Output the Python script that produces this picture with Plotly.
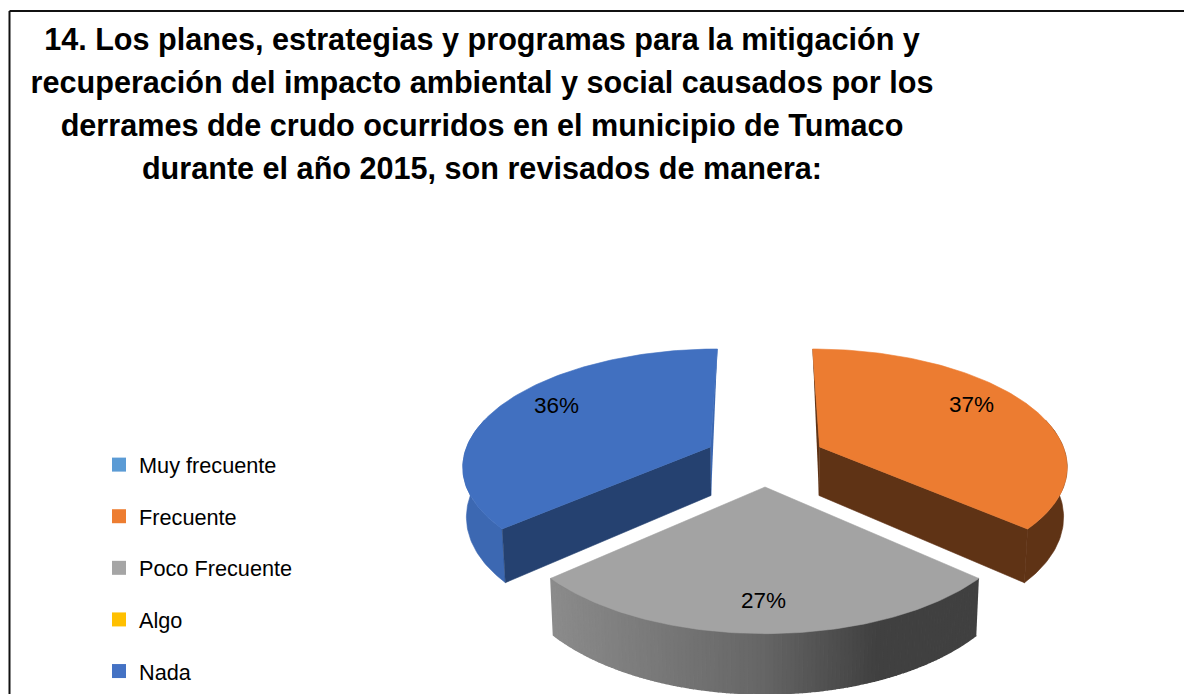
import numpy as np
import plotly.graph_objects as go

categories = ["Muy frecuente", "Frecuente", "Poco Frecuente", "Algo", "Nada"]
values = [0, 36.51, 27, 0, 36.49]
legend_colors = ["#5B9BD5", "#ED7D31", "#A5A5A5", "#FFC000", "#4472C4"]
top_colors = ["#5B9BD5", "#EC7C31", "#A3A3A3", "#FFC000", "#4170C0"]
cut_colors = ["#2E5E8A", "#5F3315", "#555555", "#7F6000", "#254170"]
rim_colors = ["#4E86BA", "#5F3315", None, "#BF9000", "#3C68B2"]
sliver_colors = ["#4E86BA", "#5F3315", "#777777", "#BF9000", "#3C68B2"]
explode = [(0, 0), (0.224, -0.2), (0, 0.14), (0, 0), (-0.224, -0.2)]
label_pos = [None, (971, 404), (763, 600), None, (556, 405)]
title_lines = ["14. Los planes, estrategias y programas para la mitigación y",
               "recuperación del impacto ambiental y social causados por los",
               "derrames dde crudo ocurridos en el municipio de Tumaco",
               "durante el año 2015, son revisados de manera:"]

CX, CY, R, B, K, D, SHRINK = 765, 470, 251, 119, 0.15, 50, 0.988
FONT = "Liberation Sans, Arial"


def project(u, v, e, bottom=False):
    U = np.asarray(u) + e[0]
    V = np.asarray(v) + e[1]
    s = 1 / (1 - K * V)
    x = R * U * s
    y = CY + B * V * s
    if bottom:
        return CX + x * SHRINK, y + D * s
    return CX + x, y


def poly(x, y, color, width=0.6):
    return go.Scatter(x=list(x), y=list(y), mode="lines", fill="toself", fillcolor=color,
                      line=dict(color=color, width=width), showlegend=False, hoverinfo="skip")


def grey_shade(x):
    return int(np.interp(x, [550, 765, 880, 980], [140, 102, 64, 64]))


fig = go.Figure()
total = sum(values)
start = 0.0
for i, val in enumerate(values):
    if val == 0:
        continue
    a = np.radians(np.linspace(start, start + val / total * 360, 121))
    start += val / total * 360
    u, v = np.sin(a), -np.cos(a)
    e = explode[i]
    xt, yt = project(u, v, e)
    xb, yb = project(u, v, e, True)
    ax, ay = project(0, 0, e)
    bx, by = project(0, 0, e, True)
    # rim: only the part of the arc that faces the viewer
    if rim_colors[i] is not None:
        vis = v > -0.25
        fig.add_trace(poly(np.r_[xt[vis], xb[vis][::-1]], np.r_[yt[vis], yb[vis][::-1]], rim_colors[i]))
    else:
        for j in range(len(a) - 1):
            c = grey_shade(xt[j])
            fig.add_trace(poly([xt[j], xt[j + 1], xb[j + 1], xb[j]],
                               [yt[j], yt[j + 1], yb[j + 1], yb[j]], f"rgb({c},{c},{c})", 1.5))
    # radial cut faces
    if e[1] < 0:
        k = 0 if e[0] > 0 else -1      # back edge: thin sliver
        fig.add_trace(poly([xt[k], ax, bx], [yt[k], ay, by], sliver_colors[i]))
        m = -1 if e[0] > 0 else 0      # front edge: full face
        fig.add_trace(poly([ax, xt[m], xb[m], bx], [ay, yt[m], yb[m], by], cut_colors[i]))
    # top face
    fig.add_trace(poly(np.r_[ax, xt, ax], np.r_[ay, yt, ay], top_colors[i]))

for name, col in zip(categories, legend_colors):
    fig.add_trace(go.Scatter(x=[None], y=[None], mode="markers", name=name, legendgroup=name,
                             marker=dict(symbol="square", size=14, color=col)))

for val, pos in zip(values, label_pos):
    if pos:
        fig.add_annotation(x=pos[0], y=pos[1], text=f"{val:.0f}%", showarrow=False,
                           font=dict(family=FONT, size=22.5, color="#000000"))

fig.add_shape(type="line", x0=9.5, x1=1184, y0=11, y1=11, line=dict(color="#111111", width=2))
fig.add_shape(type="line", x0=9.5, x1=9.5, y0=11, y1=694, line=dict(color="#111111", width=2))

title_text = "<br>".join(f'<span style="font-size:30.6px">{t}</span>' for t in title_lines)

fig.update_layout(
    width=1184, height=694, margin=dict(l=0, r=0, t=0, b=0, autoexpand=False),
    paper_bgcolor="white", plot_bgcolor="white",
    xaxis=dict(range=[0, 1184], visible=False, fixedrange=True),
    yaxis=dict(range=[694, 0], visible=False, fixedrange=True),
    title=dict(text=title_text, x=482 / 1184, xanchor="center", y=1 - 50 / 694, yanchor="top",
               font=dict(family=FONT, size=33, color="#000000", weight="bold")),
    legend=dict(x=99 / 1184, y=1 - 444 / 694, xanchor="left", yanchor="top",
                bgcolor="rgba(0,0,0,0)", tracegroupgap=20.4, itemclick=False, itemdoubleclick=False,
                font=dict(family=FONT, size=21.7, color="#000000")),
)
fig.write_html("out.html", config=dict(displayModeBar=False),
               post_script="document.body.style.margin='0';document.body.style.overflow='hidden';")
